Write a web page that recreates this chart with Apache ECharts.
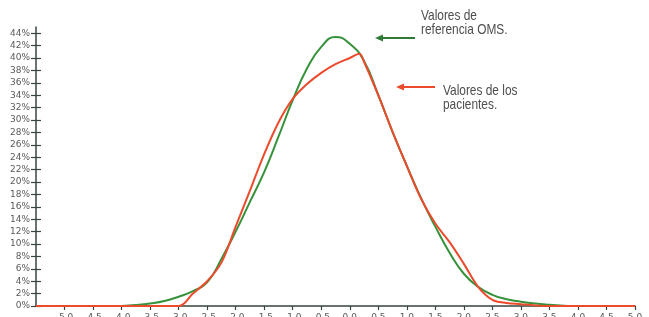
<!DOCTYPE html>
<html>
<head>
<meta charset="utf-8">
<script src="https://cdn.jsdelivr.net/npm/echarts@6/dist/echarts.min.js"></script>
<style>
  html, body { margin: 0; padding: 0; background: #fff; }
  #curvas { width: 649px; height: 317px; }
</style>
</head>
<body>
<div id="curvas"></div>
<script>
// referencia OMS (verde)
var omsX = [-4.0, -3.75, -3.5, -3.25, -3.0, -2.75, -2.5, -2.25, -2.0, -1.75, -1.5, -1.25, -1.0, -0.75, -0.5, -0.25, 0.0, 0.25, 0.5, 0.75, 1.0, 1.25, 1.5, 1.75, 2.0, 2.25, 2.5, 2.75, 3.0, 3.25, 3.5, 3.75, 3.9]
var omsY = [0, 0.15, 0.4, 0.8, 1.5, 2.4, 3.8, 7.6, 12.0, 16.8, 21.6, 27.3, 33.2, 38.3, 41.8, 43.4, 42.3, 39.5, 34.0, 28.1, 22.6, 17.4, 12.8, 8.6, 5.2, 3.1, 1.8, 1.1, 0.7, 0.4, 0.2, 0.05, 0]
// pacientes (rojo)
var pacX = [-5.5, -3.0, -2.75, -2.5, -2.25, -2.0, -1.75, -1.5, -1.25, -1.0, -0.75, -0.5, -0.25, 0.0, 0.17, 0.25, 0.5, 0.75, 1.0, 1.25, 1.5, 1.75, 2.0, 2.25, 2.5, 2.75, 3.0, 3.25, 3.5, 5.0]
var pacY = [0, 0, 2.0, 4.0, 7.0, 12.8, 18.6, 24.5, 29.6, 33.4, 35.8, 37.6, 39.0, 40.0, 40.7, 39.4, 34.0, 28.1, 22.6, 17.3, 13.3, 10.3, 6.8, 3.1, 1.0, 0.5, 0.3, 0.1, 0, 0]
// marcas de los ejes
var xTicks = [-5.0, -4.5, -4.0, -3.5, -3.0, -2.5, -2.0, -1.5, -1.0, -0.5, 0.0, 0.5, 1.0, 1.5, 2.0, 2.5, 3.0, 3.5, 4.0, 4.5, 5.0]
var yTicks = [0, 2, 4, 6, 8, 10, 12, 14, 16, 18, 20, 22, 24, 26, 28, 30, 32, 34, 36, 38, 40, 42, 44]

var ejeColor = '#37453f'
var textoColor = '#5a5a5a'
var verde = '#36923a'
var rojo = '#ec4a2c'
var fuenteNota = '14.5px "Liberation Sans", Arial, sans-serif'

function pares(xs, ys) {
  var out = []
  for (let i = 0; i < xs.length; i++) {
    out.push([xs[i], ys[i]])
  }
  return out
}

var myChart = echarts.init(document.getElementById('curvas'))
var option = {
  animation: false,
  grid: {
    left: 36,
    right: 14,
    top: 27,
    bottom: 11,
    containLabel: false,
    outerBoundsMode: 'none'
  },
  xAxis: {
    type: 'value',
    min: -5.5,
    max: 5.0,
    interval: 0.5,
    axisLine: { onZero: false, lineStyle: { color: ejeColor, width: 1.5 } },
    axisTick: { customValues: xTicks, length: 4, lineStyle: { color: ejeColor, width: 1.2 } },
    axisLabel: {
      customValues: xTicks,
      margin: 7,
      color: textoColor,
      fontSize: 9,
      fontFamily: 'DejaVu Sans',
      formatter: function(v) { return v.toFixed(1) }
    },
    splitLine: { show: false }
  },
  yAxis: [
    {
      type: 'value',
      min: 0,
      max: 45,
      interval: 2,
      axisLine: { show: true, onZero: false, lineStyle: { color: ejeColor, width: 1.5 } },
      axisTick: { customValues: yTicks, length: 5, lineStyle: { color: ejeColor, width: 1.2 } },
      axisLabel: {
        customValues: yTicks,
        margin: 6,
        color: textoColor,
        fontSize: 9,
        fontFamily: 'DejaVu Sans',
        formatter: '{value}%'
      },
      splitLine: { show: false }
    },
    {
      // segunda copia solo para las marcas hacia dentro (forma de cruz)
      type: 'value',
      position: 'left',
      min: 0,
      max: 45,
      interval: 2,
      axisLine: { show: false, onZero: false },
      axisTick: { show: true, inside: true, customValues: yTicks, length: 5, lineStyle: { color: ejeColor, width: 1.2 } },
      axisLabel: { show: false },
      splitLine: { show: false }
    }
  ],
  series: [
    {
      name: 'Valores de referencia OMS.',
      type: 'line',
      smooth: 0.5,
      symbol: 'none',
      lineStyle: { color: verde, width: 2 },
      data: pares(omsX, omsY)
    },
    {
      name: 'Valores de los pacientes.',
      type: 'line',
      smooth: 0.35,
      symbol: 'none',
      lineStyle: { color: rojo, width: 2 },
      data: pares(pacX, pacY)
    }
  ],
  graphic: [
    // flecha verde
    { type: 'line', shape: { x1: 381, y1: 38, x2: 415, y2: 38 }, style: { stroke: '#2f7a36', lineWidth: 2 } },
    { type: 'polygon', shape: { points: [[375, 38], [383, 34.5], [383, 41.5]] }, style: { fill: '#2f7a36' } },
    {
      type: 'text', x: 421, y: 9, scaleX: 0.82,
      style: { text: 'Valores de\nreferencia OMS.', fill: '#4e4e4e', font: fuenteNota, lineHeight: 14 }
    },
    // flecha roja
    { type: 'line', shape: { x1: 402, y1: 87, x2: 435, y2: 87 }, style: { stroke: rojo, lineWidth: 2 } },
    { type: 'polygon', shape: { points: [[396, 87], [404, 83.5], [404, 90.5]] }, style: { fill: rojo } },
    {
      type: 'text', x: 443, y: 84, scaleX: 0.82,
      style: { text: 'Valores de los\npacientes.', fill: '#4e4e4e', font: fuenteNota, lineHeight: 14 }
    }
  ]
}
myChart.setOption(option)
</script>
</body>
</html>
